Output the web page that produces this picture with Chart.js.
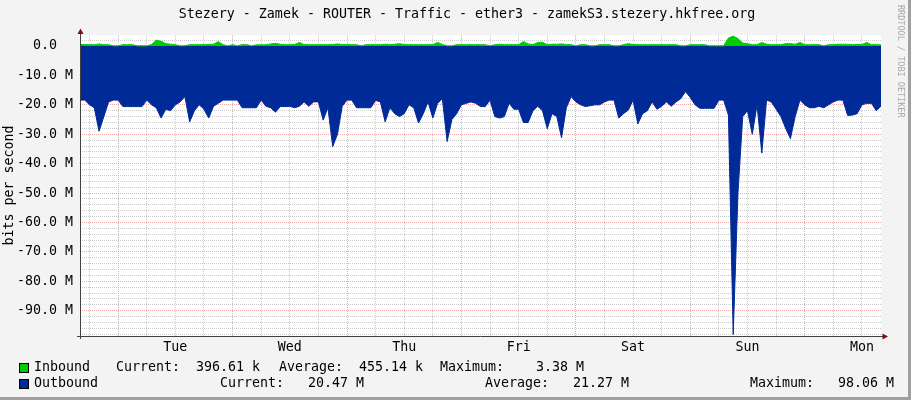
<!DOCTYPE html>
<html>
<head>
<meta charset="utf-8">
<script src="https://cdn.jsdelivr.net/npm/chart.js@4/dist/chart.umd.min.js"></script>
<style>
  html, body { margin: 0; padding: 0; background: #f3f3f3; }
  #wrap { position: relative; width: 911px; height: 400px; }
</style>
</head>
<body>
<div id="wrap"><canvas id="trafficChart"></canvas></div>
<script>
const chartTitle = 'Stezery - Zamek - ROUTER - Traffic - ether3 - zamekS3.stezery.hkfree.org';
const yTitle = 'bits per second';
const sideNote = 'RRDTOOL / TOBI OETIKER';
const dayNames = ['Mon', 'Tue', 'Wed', 'Thu', 'Fri', 'Sat', 'Sun', 'Mon'];

// one sample per hour, first one on Monday 16:00 (hours counted from Monday 00:00)
const startHour = 16;

// inbound traffic, Mbit/s
const inbound = [
  0.5, 0.5, 0.45, 0.45, 0.7, 0.45, 0.45, 0.05, 0.05, 0.45,
  0.45, 0.45, 0.05, 0.05, 0.05, 0.5, 2.0, 1.6, 0.8, 0.6,
  0.45, 0.05, 0.05, 0.45, 0.45, 0.45, 0.45, 0.5, 0.6, 1.5,
  0.45, 0.05, 0.45, 0.05, 0.45, 0.45, 0.05, 0.4, 0.4, 0.45,
  0.7, 0.9, 0.6, 0.45, 0.45, 0.5, 1.2, 0.5, 0.45, 0.45,
  0.45, 0.45, 0.45, 0.5, 0.7, 0.5, 0.45, 0.45, 0.45, 0.05,
  0.45, 0.45, 0.45, 0.45, 0.6, 0.45, 0.6, 0.8, 0.5, 0.45,
  0.45, 0.45, 0.45, 0.45, 0.45, 1.2, 0.5, 0.05, 0.05, 0.45,
  0.45, 0.45, 0.45, 0.45, 0.45, 0.45, 0.05, 0.45, 0.6, 0.45,
  0.45, 0.45, 0.45, 1.5, 0.7, 0.45, 1.2, 1.3, 0.45, 0.6,
  0.6, 0.7, 0.5, 0.45, 0.05, 0.45, 0.45, 0.05, 0.05, 0.45,
  0.45, 0.45, 0.05, 0.05, 0.45, 0.8, 0.5, 0.45, 0.45, 0.45,
  0.45, 0.45, 0.45, 0.45, 0.45, 0.45, 0.05, 0.05, 0.45, 0.45,
  0.45, 0.45, 0.05, 0.05, 0.05, 0.05, 2.7, 3.38, 2.5, 1.0,
  0.8, 0.45, 0.45, 1.2, 0.6, 0.45, 0.45, 0.45, 0.8, 0.8,
  0.6, 1.2, 0.45, 0.45, 0.45, 0.45, 0.05, 0.45, 0.45, 0.6,
  0.6, 0.6, 0.45, 0.5, 0.5, 1.2, 0.45, 0.45, 0.4
];

// outbound traffic, Mbit/s (drawn below zero)
const outbound = [
  -18.4, -18.4, -20, -21, -29, -24, -19, -18.4, -18.4, -20.6,
  -20.6, -20.6, -20.6, -20.6, -18.4, -20, -21, -24.5, -21.5, -22,
  -20, -19, -17.2, -25.8, -22, -20, -21.5, -24.5, -20.5, -19.5,
  -18.4, -18.4, -18.4, -18.4, -21, -21, -21, -21, -18.4, -20.5,
  -21, -22.5, -20.6, -20.6, -20.5, -21, -20.5, -19, -20.5, -19,
  -19, -25.2, -21, -34.2, -30, -20.5, -18.4, -18.4, -21, -21,
  -21, -21, -18.5, -19, -25.8, -21, -23, -24, -23, -20,
  -21, -26.2, -23, -19, -24.5, -19.5, -17.9, -32.5, -25, -23,
  -20, -19.5, -19, -19.5, -20.6, -20.6, -18.4, -24, -24.5, -24,
  -19.5, -21.5, -21.5, -26, -26, -22, -20.5, -22, -28.1, -23,
  -24, -31.2, -21, -17.2, -19, -20, -20.6, -20.3, -20, -20,
  -19, -18.4, -18.4, -24.5, -23, -21.8, -18.4, -26.5, -23, -22,
  -19, -21.5, -20.5, -19, -20.5, -19, -17.9, -15.5, -17.5, -20,
  -21.2, -21.2, -21.2, -21.2, -18.4, -18.4, -23.5, -98.06, -50, -24,
  -22, -30, -20, -36.4, -18.4, -19, -21.5, -24, -28, -31.5,
  -24, -18.4, -20, -21, -21, -20.5, -21, -20, -19, -18.4,
  -18.4, -23.6, -23.5, -23, -20, -19.5, -19.5, -22, -20.47
];

// printed legend statistics: current, average, maximum
const statNames = ['Current:', 'Average:', 'Maximum:'];
const inboundStats = ['396.61 k', '455.14 k', '3.38 M'];
const outboundStats = ['20.47 M', '21.27 M', '98.06 M'];

const mono = "'DejaVu Sans Mono', monospace";
const greenColor = '#00cc00';
const blueColor = '#002a97';
const minorGrid = 'rgba(185, 185, 185, 0.75)';
const majorGrid = 'rgba(235, 120, 120, 0.65)';

function toPoints(values) {
  return values.map((v, i) => ({ x: startHour + i, y: v }));
}

// rrdtool style frame, title, legend and arrows
const rrdDecor = {
  id: 'rrdDecor',
  beforeDraw(chart) {
    const { ctx, chartArea: a, width, height } = chart;
    ctx.save();
    ctx.fillStyle = '#f3f3f3';
    ctx.fillRect(0, 0, width, height);
    ctx.fillStyle = '#a0a0a0';
    ctx.fillRect(0, height - 3, width, 3);
    ctx.fillRect(width - 3, 0, 3, height);
    ctx.fillStyle = '#ffffff';
    ctx.fillRect(a.left, a.top, a.right - a.left, a.bottom - a.top);
    ctx.restore();
  },
  afterDraw(chart) {
    const { ctx, chartArea: a } = chart;
    ctx.save();
    ctx.font = '13.3px ' + mono;
    ctx.fillStyle = '#000';
    ctx.textBaseline = 'middle';

    ctx.textAlign = 'center';
    ctx.fillText(chartTitle, 467, 15);

    // y axis title
    ctx.save();
    ctx.translate(10, (a.top + a.bottom) / 2);
    ctx.rotate(-Math.PI / 2);
    ctx.fillText(yTitle, 0, 0);
    ctx.restore();

    // side note
    ctx.save();
    ctx.font = '8.5px ' + mono;
    ctx.fillStyle = '#a8a8a8';
    ctx.textAlign = 'left';
    ctx.translate(900, 5);
    ctx.rotate(Math.PI / 2);
    ctx.fillText(sideNote, 0, 0);
    ctx.restore();

    // axes
    ctx.strokeStyle = '#404040';
    ctx.lineWidth = 1;
    ctx.beginPath();
    ctx.moveTo(80.5, 31);
    ctx.lineTo(80.5, 339);
    ctx.moveTo(77, 336.5);
    ctx.lineTo(884, 336.5);
    ctx.stroke();
    ctx.fillStyle = '#7f1010';
    ctx.beginPath();
    ctx.moveTo(80.5, 28.5);
    ctx.lineTo(77.5, 34);
    ctx.lineTo(83.5, 34);
    ctx.closePath();
    ctx.fill();
    ctx.beginPath();
    ctx.moveTo(888, 336.5);
    ctx.lineTo(882.5, 333.5);
    ctx.lineTo(882.5, 339.5);
    ctx.closePath();
    ctx.fill();

    // legend: "%8.2lf %s" style items
    const rows = [
      { name: 'Inbound', color: greenColor, y: 368, stats: inboundStats, xs: [116, 279, 440] },
      { name: 'Outbound', color: blueColor, y: 384, stats: outboundStats, xs: [220, 485, 750] }
    ];
    ctx.textAlign = 'left';
    rows.forEach(r => {
      ctx.fillStyle = r.color;
      ctx.fillRect(19, r.y - 5, 10, 10);
      ctx.strokeStyle = '#000';
      ctx.strokeRect(19.5, r.y - 4.5, 9, 9);
      ctx.fillStyle = '#000';
      ctx.fillText(r.name, 34, r.y);
      for (let k = 0; k < 3; k++) {
        ctx.fillText(statNames[k] + r.stats[k].padStart(10), r.xs[k], r.y);
      }
    });
    ctx.restore();
  }
};

const ctx = document.getElementById('trafficChart').getContext('2d');
new Chart(ctx, {
  type: 'line',
  data: {
    datasets: [
      {
        label: 'Inbound',
        data: toPoints(inbound),
        borderColor: greenColor,
        backgroundColor: greenColor,
        borderWidth: 1,
        fill: 'origin',
        pointRadius: 0,
        tension: 0,
      },
      {
        label: 'Outbound',
        data: toPoints(outbound),
        borderColor: blueColor,
        backgroundColor: blueColor,
        borderWidth: 1,
        fill: 'origin',
        pointRadius: 0,
        tension: 0,
      },
    ],
  },
  options: {
    responsive: true,
    maintainAspectRatio: false,
    animation: false,
    layout: { padding: { left: 0, right: 30, top: 35, bottom: 44 } },
    plugins: {
      legend: { display: false },
      tooltip: { enabled: false },
    },
    scales: {
      x: {
        type: 'linear',
        min: startHour,
        max: startHour + inbound.length - 1,
        z: 1,
        afterBuildTicks: (scale) => {
          const t = [];
          for (let h = 18; h <= scale.max; h += 6) t.push({ value: h });
          scale.ticks = t;
        },
        afterFit: (scale) => { scale.height = 20; },
        border: { display: false, dash: [1, 1] },
        grid: {
          drawTicks: false,
          lineWidth: 1,
          color: (c) => (c.tick && c.tick.value % 24 === 0 ? majorGrid : minorGrid),
        },
        ticks: {
          autoSkip: false,
          maxRotation: 0,
          padding: 4,
          color: '#000',
          font: { family: mono, size: 13.3 },
          callback: (v) => (v % 24 === 12 ? dayNames[Math.floor(v / 24)] : ''),
        },
      },
      y: {
        min: -98.6,
        max: 3.74,
        z: 1,
        afterBuildTicks: (scale) => {
          const t = [];
          for (let v = -98; v <= 2; v += 2) t.push({ value: v });
          scale.ticks = t;
        },
        afterFit: (scale) => { scale.width = 80; },
        border: { display: false, dash: [1, 1] },
        grid: {
          drawTicks: false,
          lineWidth: 1,
          color: (c) => (c.tick && c.tick.value % 10 === 0 ? majorGrid : minorGrid),
        },
        ticks: {
          autoSkip: false,
          padding: 7,
          color: '#000',
          font: { family: mono, size: 13.3 },
          callback: (v) => {
            if (v % 10 !== 0 || v > 0) return '';
            return v === 0 ? '0.0  ' : v.toFixed(1) + ' M';
          },
        },
      },
    },
  },
  plugins: [rrdDecor],
});
</script>
</body>
</html>
